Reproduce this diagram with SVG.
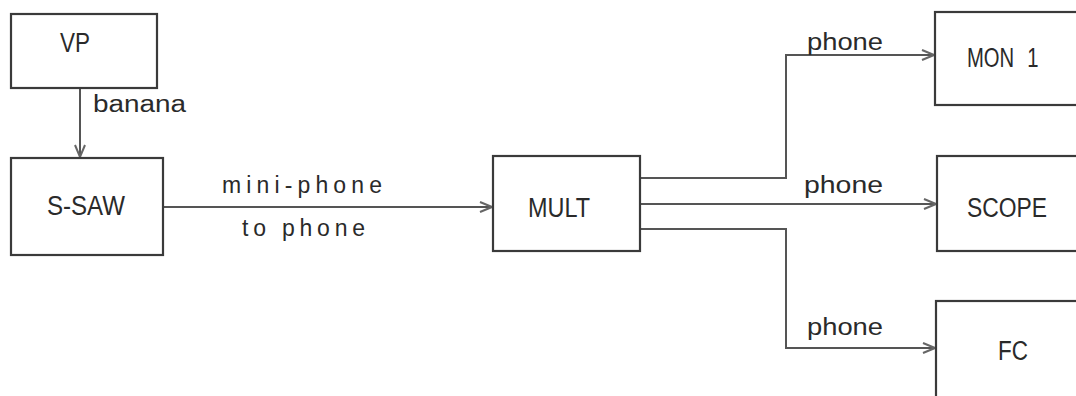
<svg xmlns="http://www.w3.org/2000/svg" width="1076" height="396" viewBox="0 0 1076 396">
<style>
.box{fill:#fff;stroke:#3a3a3a;stroke-width:2.2}
.lbl{font-family:"Liberation Sans",Arial,sans-serif;font-size:27px;fill:#2a2a2a;text-anchor:middle}
.edge{font-family:"Liberation Sans",Arial,sans-serif;font-size:23px;fill:#2a2a2a}
.ln{fill:none;stroke:#555;stroke-width:2}
</style>
<defs>
<marker id="arr" viewBox="0 0 14 12" refX="13" refY="6" markerWidth="14" markerHeight="12" markerUnits="userSpaceOnUse" orient="auto">
<path d="M1,1 L13,6 L1,11" fill="none" stroke="#666" stroke-width="2"/>
</marker>
</defs>
<g id="connectors">
<path class="ln" d="M80,88 V157" marker-end="url(#arr)"/>
<path class="ln" d="M163,207 H492" marker-end="url(#arr)"/>
<path class="ln" d="M640,178 H786 V55 H934" marker-end="url(#arr)"/>
<path class="ln" d="M640,204 H936" marker-end="url(#arr)"/>
<path class="ln" d="M640,229 H786 V348 H935" marker-end="url(#arr)"/>
<text class="edge" x="93" y="112" textLength="93" lengthAdjust="spacingAndGlyphs">banana</text>
<text class="edge" x="222" y="193" textLength="160" lengthAdjust="spacing">mini-phone</text>
<text class="edge" x="242" y="236" textLength="123" lengthAdjust="spacing">to phone</text>
<text class="edge" x="807" y="50" textLength="76" lengthAdjust="spacingAndGlyphs">phone</text>
<text class="edge" x="804" y="193" textLength="79" lengthAdjust="spacingAndGlyphs">phone</text>
<text class="edge" x="807" y="335" textLength="76" lengthAdjust="spacingAndGlyphs">phone</text>
</g>
<g id="vp">
<rect class="box" x="11" y="14" width="146" height="74"/>
<text class="lbl" x="75" y="52" textLength="30" lengthAdjust="spacingAndGlyphs">VP</text>
</g>
<g id="ssaw">
<rect class="box" x="11" y="158" width="152" height="97"/>
<text class="lbl" x="86" y="215" textLength="78" lengthAdjust="spacingAndGlyphs">S-SAW</text>
</g>
<g id="mult">
<rect class="box" x="493" y="156" width="147" height="95"/>
<text class="lbl" x="559" y="217" textLength="62" lengthAdjust="spacingAndGlyphs">MULT</text>
</g>
<g id="mon1">
<rect class="box" x="935" y="12" width="150" height="93"/>
<text class="lbl" transform="translate(967,67) scale(0.75,1)" x="0" y="0" style="text-anchor:start">MON <tspan dx="10">1</tspan></text>
</g>
<g id="scope">
<rect class="box" x="937" y="156" width="150" height="95"/>
<text class="lbl" x="1007" y="217" textLength="80" lengthAdjust="spacingAndGlyphs">SCOPE</text>
</g>
<g id="fc">
<rect class="box" x="936" y="301" width="150" height="110"/>
<text class="lbl" x="1013" y="360" textLength="30" lengthAdjust="spacingAndGlyphs">FC</text>
</g>
</svg>
